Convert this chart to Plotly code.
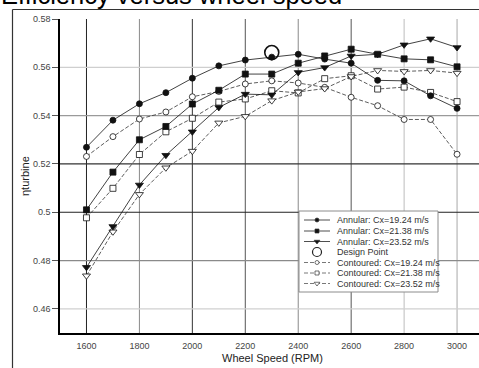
import plotly.graph_objects as go

# Wheel speed (RPM) and turbine efficiency for each stator configuration
rpm = [1600, 1700, 1800, 1900, 2000, 2100, 2200, 2300, 2400, 2500, 2600, 2700, 2800, 2900, 3000]

annular_1924 = [0.5269, 0.5381, 0.5449, 0.5495, 0.5555, 0.5606, 0.5630, 0.5642, 0.5654, 0.5634,
                0.5617, 0.5546, 0.5544, 0.5482, 0.5430]
annular_2138 = [0.5010, 0.5166, 0.5300, 0.5355, 0.5448, 0.5505, 0.5572, 0.5572, 0.5617, 0.5647,
                0.5675, 0.5654, 0.5635, 0.5631, 0.5602]
annular_2352 = [0.4772, 0.4941, 0.5113, 0.5236, 0.5333, 0.5434, 0.5489, 0.5486, 0.5579, 0.5599,
                0.5647, 0.5654, 0.5693, 0.5718, 0.5682]
contoured_1924 = [0.5231, 0.5313, 0.5386, 0.5415, 0.5478, 0.5500, 0.5531, 0.5544, 0.5535, 0.5517,
                  0.5476, 0.5441, 0.5384, 0.5384, 0.5240]
contoured_2138 = [0.4977, 0.5099, 0.5239, 0.5333, 0.5389, 0.5456, 0.5469, 0.5503, 0.5494, 0.5553,
                  0.5565, 0.5510, 0.5518, 0.5496, 0.5458]
contoured_2352 = [0.4737, 0.4919, 0.5074, 0.5184, 0.5253, 0.5370, 0.5397, 0.5462, 0.5498, 0.5512,
                  0.5562, 0.5587, 0.5583, 0.5587, 0.5576]

design_rpm = [2300]
design_eta = [0.5661]

series_names = [
    "Annular: Cx=19.24 m/s",
    "Annular: Cx=21.38 m/s",
    "Annular: Cx=23.52 m/s",
    "Design Point",
    "Contoured: Cx=19.24 m/s",
    "Contoured: Cx=21.38 m/s",
    "Contoured: Cx=23.52 m/s",
]

x_ticks = [1600, 1800, 2000, 2200, 2400, 2600, 2800, 3000]
y_ticks = [0.46, 0.48, 0.5, 0.52, 0.54, 0.56, 0.58]
y_tick_text = ["0.46", "0.48", "0.5", "0.52", "0.54", "0.56", "0.58"]

# ---- geometry (pixels) ----
W, H = 479, 368
L, R, T, B = 60, 0, 19, 35
PX0, PX1 = L, W - R
PY0, PY1 = T, H - B
X_MIN, PX_PER_RPM = 1500, 0.2647
X_MAX = X_MIN + (PX1 - PX0) / PX_PER_RPM
Y_MIN, Y_MAX = 0.45, 0.58


def paper_x(px):
    return (px - PX0) / (PX1 - PX0)


def paper_y(py):
    return (PY1 - py) / (PY1 - PY0)


def data_x(px):
    return X_MIN + (px - PX0) / (PX1 - PX0) * (X_MAX - X_MIN)


def data_y(py):
    return Y_MAX - (py - PY0) / (PY1 - PY0) * (Y_MAX - Y_MIN)


INK = "#111111"
styles = [
    dict(symbol="circle", size=6, fill=INK, dash="solid"),
    dict(symbol="square", size=6, fill=INK, dash="solid"),
    dict(symbol="triangle-down", size=7, fill=INK, dash="solid"),
    None,
    dict(symbol="circle", size=6, fill="white", dash="4px,2px"),
    dict(symbol="square", size=6, fill="white", dash="4px,2px"),
    dict(symbol="triangle-down", size=7, fill="white", dash="4px,2px"),
]
series_values = [annular_1924, annular_2138, annular_2352, None,
                 contoured_1924, contoured_2138, contoured_2352]

fig = go.Figure()

# Contoured (dashed) series first, annular on top
for idx in [4, 5, 6, 0, 1, 2]:
    st = styles[idx]
    fig.add_trace(go.Scatter(
        x=rpm, y=series_values[idx], mode="lines+markers", name=series_names[idx],
        line=dict(color="#333333" if idx >= 4 else INK, width=0.8, dash=st["dash"]),
        marker=dict(symbol=st["symbol"], size=st["size"], color=st["fill"],
                    line=dict(color=INK, width=0.8)),
        showlegend=False, cliponaxis=False,
    ))

fig.add_trace(go.Scatter(
    x=design_rpm, y=design_eta, mode="markers", name=series_names[3],
    marker=dict(symbol="circle-open", size=14, color=INK, line=dict(width=1.6)),
    showlegend=False,
))

# ---- grid lines with the uneven shading of the printed chart ----
x_grid_colors = ["#222222", "#8a8a8a", "#333333", "#555555", "#8a8a8a", "#555555", "#bdbdbd", "#a8a8a8"]
y_grid_colors = ["#d0d0d0", "#8a8a8a", "#222222", "#333333", "#9a9a9a", "#cfcfcf", None]
shapes = []
for xv, c in zip(x_ticks, x_grid_colors):
    shapes.append(dict(type="line", xref="x", yref="paper", x0=xv, x1=xv, y0=0, y1=1,
                       line=dict(color=c, width=1), layer="below"))
for yv, c in zip(y_ticks, y_grid_colors):
    if c is None:
        continue
    shapes.append(dict(type="line", xref="paper", yref="y", x0=0, x1=1, y0=yv, y1=yv,
                       line=dict(color=c, width=1.2), layer="below"))

# outer figure frame (top and left edges visible)
shapes.append(dict(type="line", xref="paper", yref="paper",
                   x0=paper_x(12.5), x1=paper_x(W + 5), y0=paper_y(9.5), y1=paper_y(9.5),
                   line=dict(color="#333333", width=1.2), layer="above"))
shapes.append(dict(type="line", xref="paper", yref="paper",
                   x0=paper_x(12.5), x1=paper_x(12.5), y0=paper_y(9.5), y1=paper_y(H + 5),
                   line=dict(color="#333333", width=1.2), layer="above"))

# ---- legend box (white panel above the grid, below the legend samples) ----
LB = dict(x0=299, x1=438, y0=211, y1=292)
shapes.append(dict(type="rect", xref="x", yref="y",
                   x0=data_x(LB["x0"]), x1=data_x(LB["x1"]),
                   y0=data_y(LB["y0"]), y1=data_y(LB["y1"]),
                   fillcolor="white", line=dict(color="#8c8c8c", width=1), layer="between"))

row_y = [220, 231, 241.5, 252, 262.5, 273, 283.5]
sym_x0, sym_x1, sym_mid, text_x = 304, 330, 317, 335
annotations = []
for i, name in enumerate(series_names):
    yy = data_y(row_y[i])
    if styles[i] is not None:
        st = styles[i]
        fig.add_trace(go.Scatter(
            x=[data_x(sym_x0), data_x(sym_x1)], y=[yy, yy], mode="lines",
            line=dict(color="#222222" if i < 3 else "#555555", width=0.8, dash=st["dash"]),
            showlegend=False, hoverinfo="skip"))
        fig.add_trace(go.Scatter(
            x=[data_x(sym_mid)], y=[yy], mode="markers",
            marker=dict(symbol=st["symbol"], size=st["size"] - 2, color=st["fill"],
                        line=dict(color="#333333", width=0.7)),
            showlegend=False, hoverinfo="skip"))
    else:
        fig.add_trace(go.Scatter(
            x=[data_x(sym_mid)], y=[yy], mode="markers",
            marker=dict(symbol="circle-open", size=9, color="#222222", line=dict(width=1.2)),
            showlegend=False, hoverinfo="skip"))
    annotations.append(dict(xref="x", yref="y", x=data_x(text_x), y=yy, text=name, showarrow=False,
                            xanchor="left", yanchor="middle",
                            font=dict(family="Liberation Sans, Arial", size=9, color="#333333")))

# title (mostly above the visible page) and axis titles
annotations.append(dict(xref="paper", yref="paper", x=paper_x(-1), y=paper_y(-5),
                        text="Efficiency versus wheel speed", showarrow=False,
                        xanchor="left", yanchor="middle",
                        font=dict(family="Liberation Sans, Arial", size=25.5, color="#000000")))
annotations.append(dict(xref="paper", yref="paper", x=paper_x(272), y=paper_y(358),
                        text="Wheel Speed (RPM)", showarrow=False,
                        xanchor="center", yanchor="middle",
                        font=dict(family="Liberation Sans, Arial", size=11, color="#222222")))
annotations.append(dict(xref="paper", yref="paper", x=paper_x(25), y=paper_y(176),
                        text="ηturbine", showarrow=False, textangle=-90,
                        xanchor="center", yanchor="middle",
                        font=dict(family="Liberation Sans, Arial", size=11, color="#222222")))

tick_font = dict(family="Liberation Sans, Arial", size=9, color="#444444")

fig.update_layout(
    width=W, height=H,
    margin=dict(l=L, r=R, t=T, b=B, pad=0),
    paper_bgcolor="white", plot_bgcolor="white",
    showlegend=False,
    shapes=shapes,
    annotations=annotations,
    xaxis=dict(range=[X_MIN, X_MAX], tickvals=x_ticks,
               ticktext=[str(v) for v in x_ticks], showgrid=False, zeroline=False,
               showline=True, linecolor="#000000", linewidth=1.5,
               ticks="", tickfont=tick_font, ticklabelstandoff=3),
    yaxis=dict(range=[Y_MIN, Y_MAX], tickvals=y_ticks, ticktext=y_tick_text,
               showgrid=False, zeroline=False, showline=True, linecolor="#000000",
               linewidth=1.5, ticks="outside", ticklen=6, tickcolor="#555555", tickwidth=1,
               tickfont=tick_font),
)

fig.write_html("out.html")
